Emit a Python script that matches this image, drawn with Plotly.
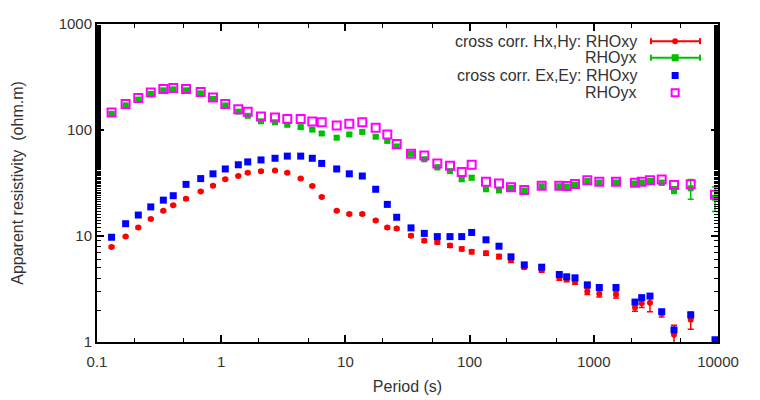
import plotly.graph_objects as go

# ---------------- data ----------------
period = [0.131, 0.170, 0.215, 0.271, 0.342, 0.411, 0.521, 0.684, 0.859, 1.079,
          1.373, 1.635, 2.092, 2.712, 3.406, 4.366, 5.414, 6.446, 8.51, 10.75,
          13.68, 17.54, 21.75, 25.88, 33.75, 43.18, 54.95, 69.55, 86.4, 103.9,
          135.5, 172.5, 215.4, 275.6, 380.6, 527.6, 605, 705.8, 886.7, 1107,
          1509, 2146, 2431, 2834, 3522, 4424, 6029, 9459]

# cross corr. Hx,Hy
h_rhoxy = [7.89, 9.87, 12.0, 14.5, 17.3, 19.45, 22.4, 26.3, 29.85, 34.3,
           36.8, 39.5, 40.9, 41.4, 39.5, 34.8, 29.6, 23.3, 17.3, 16.1,
           16.1, 14.0, 12.0, 11.75, 10.08, 9.02, 8.71, 8.12, 7.56, 7.10,
           6.87, 6.39, 5.93, 5.08, 4.74, 4.03, 3.90, 3.71, 3.00, 2.86,
           2.80, 2.12, 2.32, 2.35, 1.87, 1.17, 1.62, None]
h_rhoxy_err = [0.2, 0.2, 0.3, 0.3, 0.4, 0.4, 0.5, 0.5, 0.6, 0.7,
               0.7, 0.8, 0.8, 0.8, 0.8, 0.7, 0.6, 0.5, 0.4, 0.4,
               0.4, 0.3, 0.3, 0.3, 0.3, 0.3, 0.3, 0.3, 0.3, 0.3,
               0.3, 0.3, 0.3, 0.2, 0.2, 0.2, 0.2, 0.2, 0.2, 0.2,
               0.2, 0.17, 0.2, 0.42, 0.15, 0.27, 0.3, 0]
h_rhoyx = [142, 171, 194, 219, 237, 242, 237, 222, 196, 170.4,
           149.0, 136.1, 120.8, 118.3, 112.0, 106.5, 100.8, 92.7, 84.6, 90.8,
           95.9, 86.4, 78.9, 70.0, 59.7, 52.9, 44.5, 40.9, 34.3, 35.5,
           27.6, 26.9, 28.4, 26.9, 29.5, 29.5, 29.3, 30.5, 33.0, 32.0,
           32.0, 31.3, 32.0, 33.0, 31.8, 27.2, 28.2, 23.0]
h_rhoyx_err = [3, 3, 4, 4, 5, 5, 5, 5, 4, 4,
               3, 3, 3, 3, 3, 3, 3, 3, 3, 3,
               3, 3, 2, 2, 2, 2, 2, 1.5, 1.5, 1.5,
               1, 1, 1, 1, 1, 1, 1, 1, 1, 1,
               1, 1, 1, 1.5, 1.5, 2, 6, 6]

# cross corr. Ex,Ey
e_rhoxy = [9.73, 13.06, 15.77, 18.81, 21.79, 23.99, 30.7, 34.8, 38.6, 42.9,
           47.0, 50.0, 52.2, 54.1, 56.7, 56.7, 54.1, 48.4, 42.9, 38.6,
           36.8, 27.6, 19.87, 15.02, 11.93, 10.58, 9.87, 9.87, 9.87, 10.8,
           9.21, 8.01, 6.36, 5.34, 5.08, 4.33, 4.12, 4.03, 3.46, 3.27,
           3.27, 2.38, 2.62, 2.71, 1.93, 1.30, 1.80, 1.05]
e_rhoyx = [145.9, 176.3, 199.9, 225.3, 243.5, 248.7, 243.5, 228.7, 202.9, 176.3,
           156.7, 149.0, 134.2, 131.4, 127.0, 127.0, 120.0, 118.3, 110.4, 114.4,
           118.3, 105.2, 90.8, 73.6, 59.7, 57.6, 48.4, 46.0, 40.05, 47.0,
           32.5, 31.3, 28.8, 27.2, 29.85, 29.85, 29.6, 30.9, 33.6, 32.5,
           32.5, 31.8, 32.5, 33.6, 34.1, 30.2, 30.7, 24.5]

legend_texts = ["cross corr. Hx,Hy: RHOxy", "RHOyx", "cross corr. Ex,Ey: RHOxy", "RHOyx"]

x_tickvals = [0.1, 1, 10, 100, 1000, 10000]
x_ticktext = ["0.1", "1", "10", "100", "1000", "10000"]
y_tickvals = [1, 10, 100, 1000]
y_ticktext = ["1", "10", "100", "1000"]

RED = "#ff0000"
GREEN = "#00c000"
BLUE = "#0000ff"
MAGENTA = "#ff00ff"
TXT = "#333333"
FONT = "Liberation Sans, Arial, sans-serif"

fig = go.Figure()

fig.add_trace(go.Scatter(
    x=period, y=h_rhoxy, mode="markers", name=legend_texts[0],
    marker=dict(symbol="circle", size=6, color=RED),
    error_y=dict(type="data", array=h_rhoxy_err, color=RED, thickness=1.5, width=3),
    cliponaxis=False))
fig.add_trace(go.Scatter(
    x=period, y=h_rhoyx, mode="markers", name=legend_texts[1],
    marker=dict(symbol="square", size=6, color=GREEN),
    error_y=dict(type="data", array=h_rhoyx_err, color=GREEN, thickness=1.5, width=3),
    cliponaxis=False))
fig.add_trace(go.Scatter(
    x=period, y=e_rhoxy, mode="markers", name=legend_texts[2],
    marker=dict(symbol="square", size=7, color=BLUE),
    cliponaxis=False))
fig.add_trace(go.Scatter(
    x=period, y=e_rhoyx, mode="markers", name=legend_texts[3],
    marker=dict(symbol="square-open", size=8, color=MAGENTA, line=dict(width=2, color=MAGENTA)),
    cliponaxis=False))

# ---------------- custom gnuplot-like key (text left of sample) ----------------
rows_y = [0.946, 0.894, 0.838, 0.784]
text_x = 0.872
s_x0, s_x1, s_xc = 0.892, 0.971, 0.931
for t, yy in zip(legend_texts, rows_y):
    fig.add_annotation(x=text_x, y=yy, xref="paper", yref="paper", text=t,
                       showarrow=False, xanchor="right", yanchor="middle",
                       font=dict(family=FONT, size=16, color=TXT))

for yy, col in [(rows_y[0], RED), (rows_y[1], GREEN)]:
    fig.add_shape(type="line", xref="paper", yref="paper", x0=s_x0, x1=s_x1, y0=yy, y1=yy,
                  line=dict(color=col, width=2))
    for xx in (s_x0, s_x1):
        fig.add_shape(type="line", xref="paper", yref="paper", xsizemode="scaled",
                      ysizemode="pixel", yanchor=yy, x0=xx, x1=xx, y0=-3, y1=3,
                      line=dict(color=col, width=2))
fig.add_shape(type="circle", xref="paper", yref="paper", xsizemode="pixel", ysizemode="pixel",
              xanchor=s_xc, yanchor=rows_y[0], x0=-3, x1=3, y0=-3, y1=3,
              fillcolor=RED, line=dict(color=RED, width=0))
fig.add_shape(type="rect", xref="paper", yref="paper", xsizemode="pixel", ysizemode="pixel",
              xanchor=s_xc, yanchor=rows_y[1], x0=-3.5, x1=3.5, y0=-3.5, y1=3.5,
              fillcolor=GREEN, line=dict(color=GREEN, width=0))
fig.add_shape(type="rect", xref="paper", yref="paper", xsizemode="pixel", ysizemode="pixel",
              xanchor=s_xc, yanchor=rows_y[2], x0=-3.5, x1=3.5, y0=-3.5, y1=3.5,
              fillcolor=BLUE, line=dict(color=BLUE, width=0))
fig.add_shape(type="rect", xref="paper", yref="paper", xsizemode="pixel", ysizemode="pixel",
              xanchor=s_xc, yanchor=rows_y[3], x0=-3.5, x1=3.5, y0=-3.5, y1=3.5,
              fillcolor="rgba(0,0,0,0)", line=dict(color=MAGENTA, width=2))

axis_common = dict(
    type="log", showgrid=False, zeroline=False, showline=True, linecolor="black",
    linewidth=2, mirror="ticks", ticks="inside", ticklen=7, tickwidth=1.5, tickcolor="black",
    tickfont=dict(family=FONT, size=15, color=TXT),
    minor=dict(ticks="inside", ticklen=4, tickwidth=1, tickcolor="black", showgrid=False),
)

fig.update_xaxes(**axis_common, range=[-1, 4], tickvals=x_tickvals, ticktext=x_ticktext,
                 ticklabelstandoff=5,
                 title=dict(text="Period (s)", font=dict(family=FONT, size=16, color=TXT), standoff=12))
fig.update_yaxes(**axis_common, range=[0, 3], tickvals=y_tickvals, ticktext=y_ticktext,
                 title=dict(text="Apparent resistivity \u00a0(ohm.m)",
                            font=dict(family=FONT, size=16, color=TXT), standoff=31))

# The page body adds an 8 px offset; the figure is sized so the plot area lands
# at the same place as in the reference (x 97..718, y 15..344 in the window).
fig.update_layout(
    width=752, height=392,
    margin=dict(l=89, r=42, t=7, b=56),
    paper_bgcolor="white", plot_bgcolor="white",
    showlegend=False,
    font=dict(family=FONT, size=15, color=TXT),
)

fig.write_html("out.html")
